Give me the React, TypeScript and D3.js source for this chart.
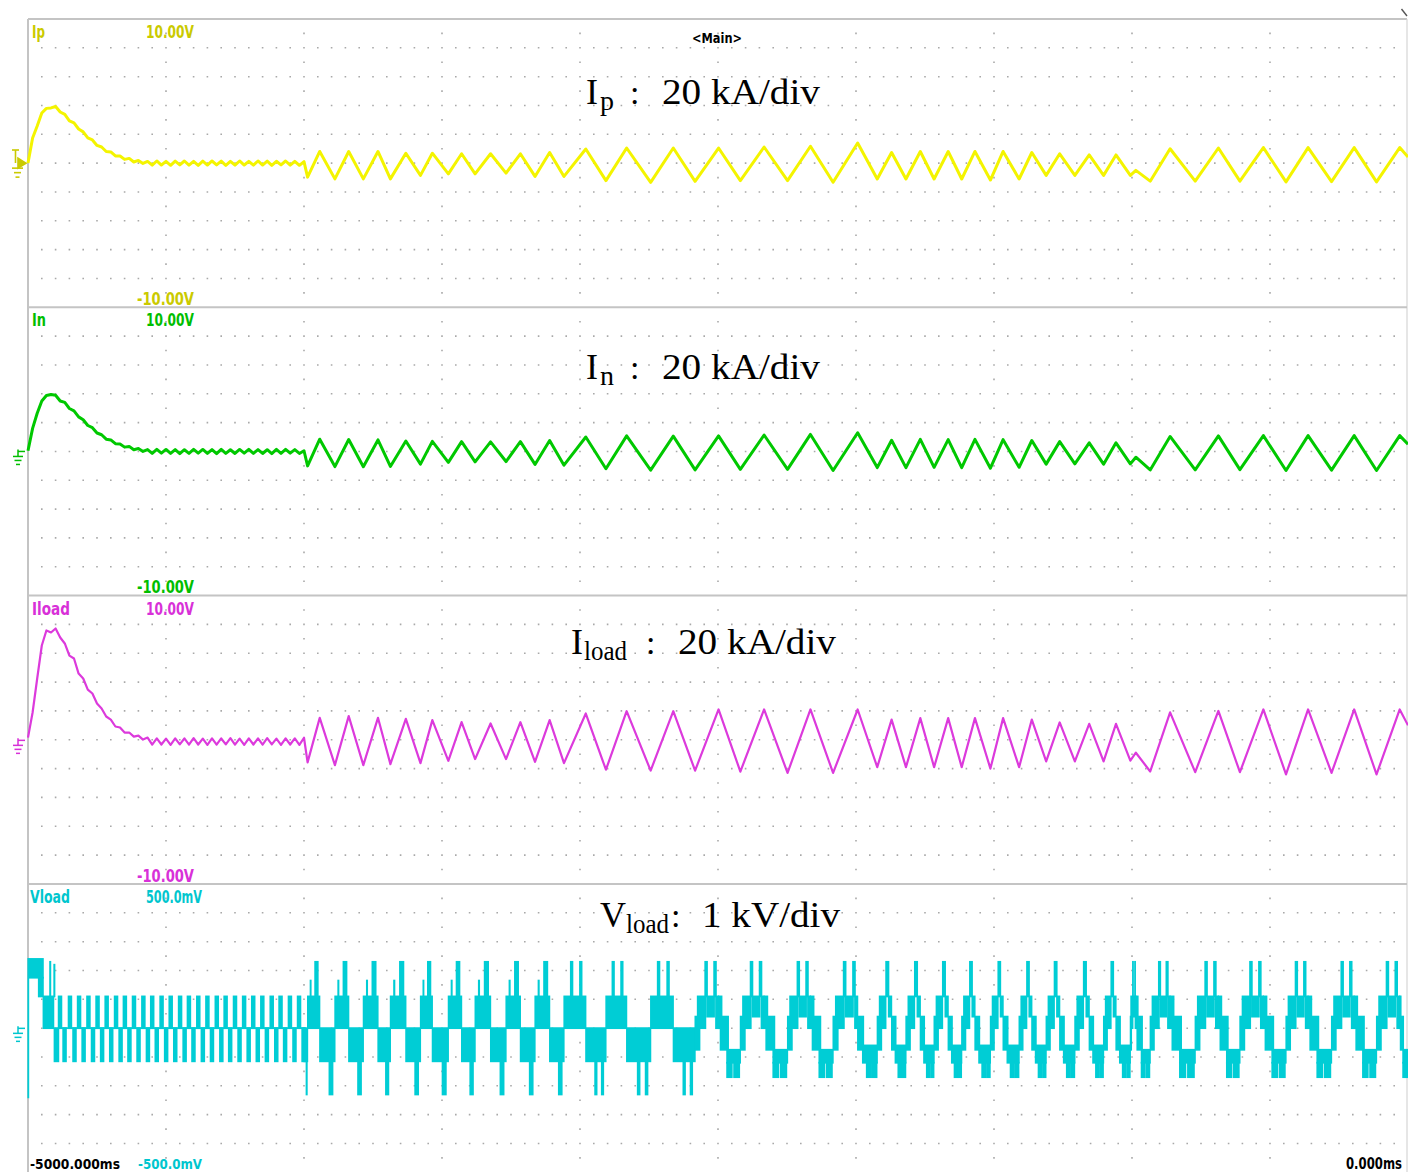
import React from "react";
import * as d3 from "d3";

// ---------------- data ----------------
const timeDomainMs = [-5000, 0];
const currentDomainKA = [-100, 100]; // 20 kA/div, 10 div
const voltageDomainKV = [-5, 5]; // 1 kV/div, 10 div

// start-up section, sampled every 1000/60 ms from -5000 ms
const earlyStartMs = -5000;
const earlyStepMs = 1000 / 60;

const ipEarly = [
  0.1, 17.5, 25.8, 34.8, 38.0, 38.3, 39.3, 35.5, 33.8, 29.3,
  27.9, 23.7, 21.7, 17.5, 16.1, 12.3, 11.2, 8.1, 7.8, 5.0,
  5.0, 2.6, 3.3, 0.8, 1.9, -0.2, 1.2, -1.4, 1.5, -1.3,
  1.2, -1.5, 1.4, -1.2, 1.5, -1.4, 1.3, -1.5, 1.4, -1.3,
  1.5, -1.2, 1.4, -1.5, 1.3, -1.4, 1.5, -1.3, 1.2, -1.4,
  1.5, -1.3, 1.4, -1.5, 1.3, -1.2, 1.5, -1.4, 1.3, -1.5,
];
const inEarly = [
  0.5, 16.0, 26.5, 35.0, 38.8, 39.5, 39.0, 35.0, 34.0, 29.8,
  28.2, 24.0, 22.0, 18.0, 16.5, 12.8, 11.6, 8.5, 8.0, 5.4,
  5.2, 3.0, 3.5, 1.2, 2.0, 0.0, 1.3, -1.3, 1.5, -1.2,
  1.4, -1.4, 1.3, -1.5, 1.2, -1.3, 1.5, -1.2, 1.4, -1.4,
  1.3, -1.5, 1.5, -1.3, 1.2, -1.4, 1.4, -1.2, 1.5, -1.3,
  1.3, -1.4, 1.2, -1.5, 1.4, -1.3, 1.5, -1.2, 1.3, -1.4,
];
const iloadEarly = [
  1.5, 18.9, 42.5, 65.4, 75.8, 74.4, 77.2, 70.9, 66.8, 58.4,
  56.4, 45.9, 42.5, 34.8, 32.1, 25.1, 21.7, 16.1, 14.0, 9.2,
  8.5, 5.0, 5.0, 2.2, 2.9, 0.1, 1.5, -3.4, 1.0, -3.3,
  0.8, -3.5, 1.0, -3.2, 0.9, -3.4, 1.1, -3.3, 0.8, -3.5,
  1.0, -3.4, 0.9, -3.2, 1.1, -3.4, 0.8, -3.5, 1.0, -3.3,
  0.9, -3.4, 1.1, -3.2, 0.8, -3.5, 1.0, -3.3, 0.9, -3.6,
];

// oscillating section: turning points (ms), shared by the three currents
const oscT = [
  -4000, -3987, -3943, -3888, -3838, -3785, -3732, -3687, -3631, -3578,
  -3535, -3477, -3429, -3380, -3324, -3268, -3216, -3163, -3110, -3058,
  -2979, -2906, -2831, -2744, -2662, -2583, -2498, -2419, -2333, -2248,
  -2165, -2083, -1994, -1923, -1871, -1819, -1767, -1717, -1666, -1617,
  -1569, -1513, -1467, -1409, -1363, -1311, -1262, -1207, -1155, -1103,
  -1058, -1006, -986, -934, -862, -771, -687, -609, -524, -442,
  -362, -277, -195, -114, -30, 0,
];
const ipOsc = [
  1.0, -9.7, 8.1, -10.9, 8.1, -10.9, 8.1, -10.9, 6.9, -8.5,
  6.9, -7.4, 6.5, -7.4, 6.5, -6.9, 6.5, -9.2, 7.4, -9.2,
  9.8, -12.1, 10.5, -13.3, 10.5, -12.6, 10.5, -12.1, 11.2, -12.1,
  11.7, -13.3, 14.0, -11.0, 7.4, -11.0, 8.1, -11.0, 8.1, -11.0,
  8.1, -11.7, 8.1, -11.0, 7.4, -8.5, 6.5, -8.5, 5.7, -8.5,
  5.7, -8.5, -5.0, -12.5, 10.0, -12.5, 10.5, -12.5, 10.8, -13.0,
  10.8, -12.8, 10.8, -13.0, 10.8, 4.3,
];
const inOsc = [
  0.5, -10.0, 8.5, -10.5, 8.3, -10.6, 8.0, -10.4, 7.2, -8.8,
  7.0, -7.6, 6.8, -7.2, 6.6, -7.0, 6.8, -9.0, 7.6, -9.5,
  10.0, -12.0, 10.8, -13.0, 10.6, -12.8, 10.8, -12.4, 11.4, -12.4,
  11.8, -13.2, 13.0, -11.2, 7.8, -11.2, 8.4, -11.0, 8.2, -11.2,
  8.4, -11.6, 8.2, -11.0, 7.6, -8.8, 6.8, -8.6, 6.0, -8.8,
  6.0, -8.6, -4.0, -12.8, 10.4, -12.8, 10.8, -12.6, 11.0, -13.2,
  11.0, -13.0, 11.0, -13.2, 11.0, 5.0,
];
const iloadOsc = [
  1.4, -15.7, 15.2, -17.6, 16.4, -17.6, 15.2, -16.9, 14.5, -16.2,
  13.6, -14.6, 12.2, -13.4, 11.3, -13.4, 12.2, -15.3, 13.6, -16.2,
  18.2, -20.8, 19.8, -21.4, 19.8, -21.4, 21.0, -22.1, 21.0, -23.0,
  21.0, -23.0, 21.0, -19.0, 14.0, -19.0, 15.0, -19.0, 15.0, -19.0,
  15.0, -20.0, 15.0, -19.0, 14.0, -15.0, 12.0, -15.0, 11.0, -15.0,
  11.0, -14.5, -9.0, -22.0, 19.0, -22.5, 20.0, -22.5, 21.0, -24.0,
  21.0, -23.0, 21.0, -24.0, 21.0, 10.0,
];

// Vload: switching blocks [tStart ms, tEnd ms, low kV, high kV]
const vStartBlocks = [
  [-5000, -4999, -2.4, 2.4],
  [-4996, -4945, 1.75, 2.4],
  [-4962, -4945, 1.1, 1.75],
  [-4945, -4907, 0, 1.1],
  [-4921, -4918, 1.1, 2.3],
  [-4906, -4903, 1.1, 2.2],
  [-4905, -4889, -1.15, 0],
];
// centres of the regular positive pulses before -4000 ms
const vEarlyPulseT = [
  -4884, -4848, -4815, -4781, -4748, -4715, -4681, -4649, -4616, -4582,
  -4550, -4516, -4483, -4449, -4417, -4383, -4350, -4316, -4284, -4250,
  -4217, -4184, -4151, -4117, -4085, -4051, -4018,
];
const vEarlyUpper = [0, 1.1];
const vEarlyLower = [-1.15, 0];
const vEarlyHalfWidthMs = 6;
const vEarlyLowerOffsetMs = 16.5;

// switching pattern per half cycle of the current, as [f0, f1, low kV, high kV]
const vRegimeStart = [-4000, -3058, -2583, -1994, -1006];
const vRegimeKind = ["A", "D", "B", "C", "B"];
const vPatternRise: Record<string, number[][]> = {
  A: [[0, 1, 0, 1.1], [0.22, 0.28, 1.1, 1.65], [0.6, 0.86, 1.1, 2.3]],
  D: [[0, 1, 0, 1.1], [0.3, 0.4, 1.1, 2.3], [0.72, 0.82, 1.1, 2.3]],
  B: [[0, 0.2, -0.75, 0.4], [0.1, 0.45, 0, 1.1], [0.42, 0.52, 1.1, 2.3], [0.5, 0.82, 0.4, 1.1], [0.8, 0.9, 1.1, 2.3], [0.88, 1, 0, 1.1]],
  C: [[0, 0.3, -0.75, 0.4], [0.15, 0.6, 0, 1.1], [0.6, 0.8, 1.1, 2.3], [0.78, 1, 0.4, 1.1]],
};
const vPatternFall: Record<string, number[][]> = {
  A: [[0, 1, -1.15, 0], [0.62, 0.86, -2.3, -1.15]],
  D: [[0, 1, -1.15, 0], [0.45, 0.55, -2.3, -1.15], [0.78, 0.88, -2.3, -1.15]],
  B: [[0, 0.15, 0, 1.1], [0.08, 0.45, -0.75, 0.4], [0.38, 1, -1.2, -0.75], [0.38, 0.62, -1.7, -1.2], [0.7, 0.96, -1.7, -1.2]],
  C: [[0, 0.3, -0.75, 0.4], [0.25, 1, -1.2, -0.6], [0.45, 0.7, -1.7, -1.2], [0.76, 0.98, -1.7, -1.2]],
};

const channelNames = ["Ip", "In", "Iload", "Vload"];
const channelTopLabels = ["10.00V", "10.00V", "10.00V", "500.0mV"];
const channelBottomLabels = ["-10.00V", "-10.00V", "-10.00V", "-500.0mV"];
const timeLabels = ["-5000.000ms", "0.000ms"];
const headerLabel = "<Main>";

// ---------------- layout / style ----------------
const W = 1408;
const H = 1172;
const X0 = 28;
const X1 = 1408;
const PANEL_TOP = [19, 307.3, 595.6, 884];
const PANEL_H = 288.3;
const traceColors = ["#F4F400", "#00C800", "#DC3ADC", "#00CDD5"];
const labelColors = ["#CACA00", "#00BE00", "#D830D8", "#00C6CE"];
const traceWidths = [3, 3, 2.2];
const SCOPE_FONT = "'DejaVu Sans', 'Liberation Sans', sans-serif";
const SERIF = "'Liberation Serif', 'DejaVu Serif', serif";

function ScopeText(props: {
  x: number;
  y: number;
  len: number;
  fill: string;
  children: string;
  size?: number;
  sy?: number;
}) {
  const sy = props.sy ?? 1;
  return (
    <text
      transform={`translate(${props.x},${props.y}) scale(1,${sy})`}
      x={0}
      y={0}
      fill={props.fill}
      fontFamily={SCOPE_FONT}
      fontWeight="bold"
      fontSize={props.size ?? 17}
      textLength={props.len}
      lengthAdjust="spacingAndGlyphs"
    >
      {props.children}
    </text>
  );
}

function GroundMark({ y, color, trigger }: { y: number; color: string; trigger?: boolean }) {
  if (trigger) {
    return (
      <g stroke={color} strokeWidth={1.6} fill="none">
        <line x1={12} y1={150} x2={19} y2={150} />
        <line x1={15.5} y1={150} x2={15.5} y2={163} />
        <path d={`M18,${y - 5} L26,${y} L18,${y + 5} Z`} fill={color} />
        <line x1={12} y1={y + 5} x2={23} y2={y + 5} />
        <line x1={14} y1={y + 9.5} x2={21} y2={y + 9.5} />
        <line x1={15.5} y1={y + 14} x2={19.5} y2={y + 14} />
      </g>
    );
  }
  return (
    <g stroke={color} strokeWidth={1.5} fill="none">
      <line x1={18} y1={y} x2={25} y2={y} />
      <line x1={18} y1={y - 2} x2={18} y2={y + 5} />
      <line x1={13} y1={y + 5} x2={23} y2={y + 5} />
      <line x1={14.5} y1={y + 9} x2={21.5} y2={y + 9} />
      <line x1={16} y1={y + 13} x2={20} y2={y + 13} />
    </g>
  );
}

export default function App() {
  const xs = d3.scaleLinear().domain(timeDomainMs).range([X0, X1]);
  const mkY = (i: number, dom: number[]) =>
    d3.scaleLinear().domain(dom).range([PANEL_TOP[i] + PANEL_H, PANEL_TOP[i]]);
  const yCur = [mkY(0, currentDomainKA), mkY(1, currentDomainKA), mkY(2, currentDomainKA)];
  const yV = mkY(3, voltageDomainKV);

  const build = (early: number[], osc: number[]) => [
    ...early.map((v, k) => [earlyStartMs + k * earlyStepMs, v] as [number, number]),
    ...oscT.map((t, i) => [t, osc[i]] as [number, number]),
  ];
  const traces = [build(ipEarly, ipOsc), build(inEarly, inOsc), build(iloadEarly, iloadOsc)];

  // grid dots
  let dots = "";
  for (let p = 0; p < 4; p++) {
    const top = PANEL_TOP[p];
    const dv = PANEL_H / 10;
    for (let k = 1; k <= 9; k++) {
      const y = top + k * dv;
      for (let j = 1; j <= 99; j++) {
        const x = X0 + j * 13.8;
        dots += `M${(x - 0.8).toFixed(1)},${(y - 0.8).toFixed(1)}h1.6v1.6h-1.6z`;
      }
    }
    for (let m = 1; m <= 9; m++) {
      const x = X0 + m * 138;
      for (let k = 0; k <= 9; k++) {
        const y = top + (k + 0.5) * dv;
        dots += `M${(x - 0.8).toFixed(1)},${(y - 0.8).toFixed(1)}h1.6v1.6h-1.6z`;
      }
    }
  }

  // Vload blocks
  const vBlocks: number[][] = [];
  vStartBlocks.forEach((b) => vBlocks.push(b));
  vBlocks.push([vEarlyPulseT[0] - vEarlyHalfWidthMs, oscT[0], 0, 0]);
  vEarlyPulseT.forEach((c) => {
    vBlocks.push([c - vEarlyHalfWidthMs, c + vEarlyHalfWidthMs, vEarlyUpper[0], vEarlyUpper[1]]);
    vBlocks.push([
      c + vEarlyLowerOffsetMs - vEarlyHalfWidthMs,
      c + vEarlyLowerOffsetMs + vEarlyHalfWidthMs,
      vEarlyLower[0],
      vEarlyLower[1],
    ]);
  });
  for (let i = 0; i < oscT.length - 1; i++) {
    const t0 = oscT[i];
    const t1 = oscT[i + 1];
    const rising = ipOsc[i + 1] > ipOsc[i];
    let r = 0;
    for (let j = 0; j < vRegimeStart.length; j++) if (t0 >= vRegimeStart[j]) r = j;
    const pat = (rising ? vPatternRise : vPatternFall)[vRegimeKind[r]];
    pat.forEach(([f0, f1, lo, hi]) => vBlocks.push([t0 + f0 * (t1 - t0), t0 + f1 * (t1 - t0), lo, hi]));
  }

  const zeroY = [yCur[0](0), yCur[1](0), yCur[2](0) + 0.6, yV(0) + 0.2];

  const titles = [
    { y: 104, main: "I", mx: 586, sub: "p", sx: 600, sl: 14, cx: 630, rest: "20 kA/div", rx: 662, rl: 158 },
    { y: 379, main: "I", mx: 586, sub: "n", sx: 600, sl: 14, cx: 630, rest: "20 kA/div", rx: 662, rl: 158 },
    { y: 654, main: "I", mx: 571, sub: "load", sx: 584, sl: 43, cx: 646, rest: "20 kA/div", rx: 678, rl: 158 },
    { y: 927, main: "V", mx: 600, sub: "load", sx: 626, sl: 43, cx: 671, rest: "1 kV/div", rx: 702, rl: 138 },
  ];

  return (
    <svg
      width={W}
      height={H}
      viewBox={`0 0 ${W} ${H}`}
      style={{ position: "absolute", left: 0, top: 0, background: "#fff" }}
    >
      <rect x={0} y={0} width={W} height={H} fill="#fff" />
      <path d={dots} fill="#A9A9A9" />

      {/* frame */}
      <g stroke="#C4C4C4" strokeWidth={2} fill="none">
        <line x1={X0} y1={19} x2={1407} y2={19} />
        <line x1={X0} y1={19} x2={X0} y2={H} />
        <line x1={1407} y1={19} x2={1407} y2={H} stroke="#D6D6D6" strokeWidth={1.2} />
        {PANEL_TOP.slice(1).map((t, i) => (
          <line key={i} x1={X0} y1={t} x2={1407} y2={t} />
        ))}
      </g>
      <line x1={1401.5} y1={9} x2={1407} y2={16} stroke="#555" strokeWidth={1.4} />

      {/* current traces */}
      {traces.map((pts, i) => {
        const line = d3
          .line<[number, number]>()
          .x((d) => xs(d[0]))
          .y((d) => yCur[i](d[1]));
        return (
          <path
            key={i}
            d={line(pts) ?? ""}
            fill="none"
            stroke={traceColors[i]}
            strokeWidth={traceWidths[i]}
            strokeLinejoin="round"
          />
        );
      })}

      {/* Vload */}
      <g fill={traceColors[3]}>
        {vBlocks.map((b, i) => {
          const x = xs(b[0]) - 0.6;
          const w = Math.max(1.8, xs(b[1]) - xs(b[0]) + 1.2);
          const y = yV(b[3]) - 0.9;
          const h = Math.max(1.8, yV(b[2]) - yV(b[3]) + 1.8);
          return <rect key={i} x={x} y={y} width={Math.min(w, X1 - x)} height={h} />;
        })}
      </g>

      {/* ground markers */}
      <GroundMark y={zeroY[0]} color={labelColors[0]} trigger />
      <GroundMark y={zeroY[1]} color={labelColors[1]} />
      <GroundMark y={zeroY[2]} color={labelColors[2]} />
      <GroundMark y={zeroY[3]} color={labelColors[3]} />

      {/* channel labels */}
      <ScopeText x={32} y={38} len={13} fill={labelColors[0]}>{channelNames[0]}</ScopeText>
      <ScopeText x={146} y={38} len={48} fill={labelColors[0]}>{channelTopLabels[0]}</ScopeText>
      <ScopeText x={137} y={304.5} len={57} fill={labelColors[0]}>{channelBottomLabels[0]}</ScopeText>

      <ScopeText x={32} y={326} len={14} fill={labelColors[1]}>{channelNames[1]}</ScopeText>
      <ScopeText x={146} y={326} len={48} fill={labelColors[1]}>{channelTopLabels[1]}</ScopeText>
      <ScopeText x={137} y={593} len={57} fill={labelColors[1]}>{channelBottomLabels[1]}</ScopeText>

      <ScopeText x={32} y={614.5} len={38} fill={labelColors[2]}>{channelNames[2]}</ScopeText>
      <ScopeText x={146} y={614.5} len={48} fill={labelColors[2]}>{channelTopLabels[2]}</ScopeText>
      <ScopeText x={137} y={881.5} len={57} fill={labelColors[2]}>{channelBottomLabels[2]}</ScopeText>

      <ScopeText x={30} y={903} len={40} fill={labelColors[3]}>{channelNames[3]}</ScopeText>
      <ScopeText x={146} y={903} len={56} fill={labelColors[3]}>{channelTopLabels[3]}</ScopeText>
      <ScopeText x={138} y={1169} len={64} fill={labelColors[3]} size={13} sy={1.15}>{channelBottomLabels[3]}</ScopeText>

      <ScopeText x={30} y={1169} len={90} fill="#000" size={13} sy={1.15}>{timeLabels[0]}</ScopeText>
      <ScopeText x={1346} y={1169} len={56} fill="#000" size={12} sy={1.25}>{timeLabels[1]}</ScopeText>
      <ScopeText x={692} y={43} len={50} fill="#000" size={14}>{headerLabel}</ScopeText>

      {/* titles */}
      {titles.map((t, i) => (
        <g key={i} fontFamily={SERIF} fill="#000">
          <text x={t.mx} y={t.y} fontSize={36}>{t.main}</text>
          <text x={t.sx} y={t.y + 6} fontSize={27} textLength={t.sl} lengthAdjust="spacingAndGlyphs">
            {t.sub}
          </text>
          <text x={t.cx} y={t.y} fontSize={34}>:</text>
          <text x={t.rx} y={t.y} fontSize={36} textLength={t.rl} lengthAdjust="spacingAndGlyphs">
            {t.rest}
          </text>
        </g>
      ))}
    </svg>
  );
}
